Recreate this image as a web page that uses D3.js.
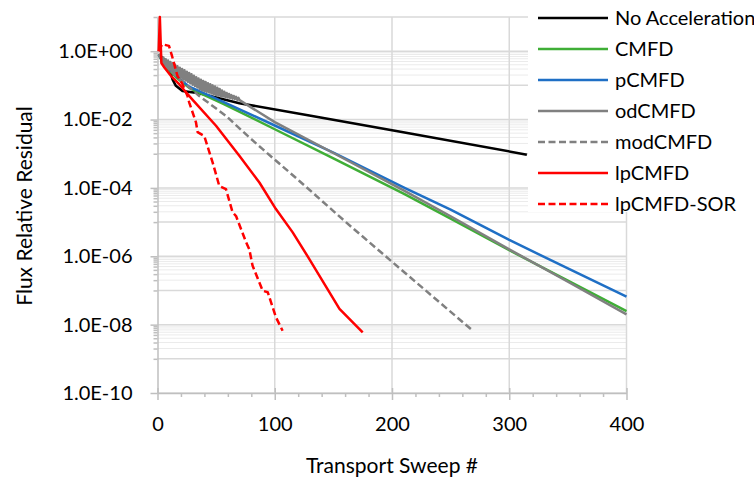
<!DOCTYPE html>
<html>
<head>
<meta charset="utf-8">
<script src="https://cdn.jsdelivr.net/npm/d3@7"></script>
<style>
	body { margin: 0; background: #fff; }
	svg { display: block; font-family: Lato, "Open Sans", sans-serif; }
</style>
</head>
<body>
<script>
	// данные серий (число итераций, невязка)
	const noAccX = [1, 8.6, 12.8, 15.7, 21.3, 35.6, 69.8, 129.5, 206, 315];
	const noAccY = [0.8, 0.47, 0.15, 0.097, 0.068, 0.059, 0.030, 0.0132, 0.0045, 0.00094];

	const cmfdX = [1, 5, 16, 27, 40, 57, 100, 150, 210.7, 250, 300, 350, 400];
	const cmfdY = [0.8, 0.42, 0.17, 0.085, 0.052, 0.028, 5.2e-3, 7.3e-4, 6.6e-5, 1.26e-5, 1.5e-6, 1.95e-7, 2.5e-8];

	const pcmfdX = [1, 5, 16, 27, 40, 57, 100, 150, 210.7, 250, 300, 350, 400];
	const pcmfdY = [0.8, 0.45, 0.19, 0.092, 0.058, 0.032, 6.7e-3, 1.07e-3, 1.0e-4, 2.3e-5, 3.0e-6, 4.4e-7, 6.6e-8];

	// odCMFD в начале колеблется от итерации к итерации
	const odcmfdX = [1, 3, 4, 5, 6, 7, 8, 9, 10, 11, 12, 13, 14, 15, 16, 17, 18, 19, 20, 21, 22, 23, 24, 25, 26,
		27, 28, 29, 30, 31, 32, 33, 34, 35, 36, 37, 38, 39, 40, 41, 42, 43, 44, 45, 46, 47, 48, 49, 50, 51, 52,
		53, 54, 55, 56, 57, 58, 59, 60, 61, 62, 63, 64, 65, 66, 67, 68, 69, 70, 100, 150, 210.7, 250, 300, 350, 400];
	const odcmfdY = [0.8, 0.72, 0.47, 0.65, 0.37, 0.58, 0.32, 0.53, 0.295, 0.48, 0.26, 0.44, 0.24, 0.40, 0.21,
		0.36, 0.19, 0.33, 0.166, 0.30, 0.151, 0.275, 0.138, 0.25, 0.126, 0.23, 0.115, 0.21, 0.105, 0.19, 0.095,
		0.174, 0.087, 0.158, 0.078, 0.146, 0.072, 0.135, 0.068, 0.126, 0.065, 0.116, 0.062, 0.107, 0.058, 0.100,
		0.055, 0.092, 0.052, 0.085, 0.050, 0.078, 0.048, 0.071, 0.047, 0.065, 0.045, 0.060, 0.044, 0.056, 0.043,
		0.052, 0.041, 0.049, 0.040, 0.046, 0.038, 0.043, 0.037, 8.4e-3, 1.05e-3, 8.2e-5, 1.48e-5, 1.6e-6,
		1.8e-7, 2.0e-8];

	const modcmfdX = [1, 5, 15, 25, 35.6, 58.4, 78.3, 89.7, 121, 160.9, 200.7, 269];
	const modcmfdY = [0.8, 0.45, 0.2, 0.1, 0.049, 0.0128, 3.0e-3, 1.36e-3, 1.6e-4, 9.8e-6, 6.6e-7, 6.6e-9];

	const lpcmfdX = [1, 2, 3.3, 5.7, 11.4, 18.5, 24.3, 29.6, 49.9, 69.8, 86.9, 101, 115.3, 129.5, 155.2, 175];
	const lpcmfdY = [1.0, 10, 0.45, 0.34, 0.19, 0.108, 0.063, 0.039, 6.6e-3, 8.7e-4, 1.44e-4, 2.4e-5, 5.0e-6, 8.3e-7, 2.9e-8, 5.9e-9];

	const sorX = [1, 4, 9.8, 12.5, 17, 21.3, 25.6, 27, 32.8, 34.2, 39.9, 47, 52.7, 58.4, 64, 67, 75.5, 78.3, 81.1,
		89.7, 94, 101, 106.7];
	const sorY = [1.0, 1.6, 1.43, 0.70, 0.19, 0.108, 0.049, 0.032, 8.3e-3, 4.3e-3, 3.3e-3, 5.6e-4, 1.14e-4, 9.2e-5,
		1.95e-5, 1.5e-5, 2.6e-6, 1.6e-6, 5.3e-7, 9.8e-8, 8.9e-8, 1.65e-8, 6.6e-9];

	// подписи осей
	const xTicks = [0, 100, 200, 300, 400];
	const yTicks = [1, 1e-2, 1e-4, 1e-6, 1e-8, 1e-10];
	const yTickLabels = ["1.0E+00", "1.0E-02", "1.0E-04", "1.0E-06", "1.0E-08", "1.0E-10"];

	// серии в порядке легенды
	const series = [
		{ name: "No Acceleration", xs: noAccX, ys: noAccY, color: "#000000", dash: null },
		{ name: "CMFD", xs: cmfdX, ys: cmfdY, color: "#3fae36", dash: null },
		{ name: "pCMFD", xs: pcmfdX, ys: pcmfdY, color: "#1f6fc5", dash: null },
		{ name: "odCMFD", xs: odcmfdX, ys: odcmfdY, color: "#808080", dash: null },
		{ name: "modCMFD", xs: modcmfdX, ys: modcmfdY, color: "#808080", dash: "7,3.5" },
		{ name: "lpCMFD", xs: lpcmfdX, ys: lpcmfdY, color: "#ff0000", dash: null },
		{ name: "lpCMFD-SOR", xs: sorX, ys: sorY, color: "#ff0000", dash: "7,3.5" }
	];

	const w = 754,
		h = 482;

	const svg = d3
		.select("body")
		.append("svg")
		.attr("width", w)
		.attr("height", h);

	const xScale = d3.scaleLinear().domain([0, 400]).range([157.5, 626.5]),
		yScale = d3.scaleLog().domain([1e-10, 10]).range([393, 17]);

	// вспомогательные линии: основные по декадам, мелкие под чётными декадами
	const decades = d3.range(-10, 2).map(e => Math.pow(10, e));
	const minor = [];
	[0, -2, -4, -6, -8].forEach(e => {
		for (let k = 2; k <= 9; k++) minor.push(k * Math.pow(10, e - 1));
	});

	const grid = svg.append("g");

	grid.selectAll(".minor")
		.data(minor)
		.enter()
		.append("line")
		.attr("x1", xScale(0))
		.attr("x2", xScale(400))
		.attr("y1", d => yScale(d))
		.attr("y2", d => yScale(d))
		.attr("stroke", "#ebebeb")
		.attr("stroke-width", 1);

	grid.selectAll(".major")
		.data(decades)
		.enter()
		.append("line")
		.attr("x1", xScale(0))
		.attr("x2", xScale(400))
		.attr("y1", d => yScale(d))
		.attr("y2", d => yScale(d))
		.attr("stroke", "#d9d9d9")
		.attr("stroke-width", 1.5);

	grid.selectAll(".vert")
		.data(xTicks.slice(1))
		.enter()
		.append("line")
		.attr("x1", d => xScale(d))
		.attr("x2", d => xScale(d))
		.attr("y1", yScale(10))
		.attr("y2", yScale(1e-10))
		.attr("stroke", "#d9d9d9")
		.attr("stroke-width", 1.5);

	// ось X
	const xAxis = svg
		.append("g")
		.attr("transform", `translate(0,${yScale(1e-10)})`)
		.call(d3.axisBottom(xScale).tickValues(xTicks).tickSize(7).tickSizeOuter(0).tickFormat(d3.format("d")));

	xAxis.selectAll(".tick line").attr("y1", -5);

	svg.append("g")
		.attr("transform", `translate(0,${yScale(1e-10)})`)
		.call(d3.axisBottom(xScale).tickValues(d3.range(20, 400, 20).filter(v => v % 100)).tickSize(4).tickSizeOuter(0).tickFormat(""))
		.select(".domain").remove();

	// ось Y
	svg.append("g")
		.attr("transform", `translate(${xScale(0)},0)`)
		.call(d3.axisLeft(yScale).tickValues(yTicks).tickSize(7).tickSizeOuter(0).tickPadding(18)
			.tickFormat((d, i) => yTickLabels[i]));

	svg.append("g")
		.attr("transform", `translate(${xScale(0)},0)`)
		.call(d3.axisLeft(yScale).tickValues(minor.concat(decades.filter(d => yTicks.indexOf(d) < 0)))
			.tickSize(4).tickFormat(""))
		.select(".domain").remove();

	svg.selectAll(".domain, .tick line")
		.attr("stroke", "#bfbfbf")
		.attr("stroke-width", 1.5);

	svg.selectAll(".tick text")
		.attr("font-size", 20)
		.attr("font-family", "Lato, 'Open Sans', sans-serif")
		.attr("fill", "#000");

	xAxis.selectAll(".tick text").attr("dy", "1.4em");

	// подписи осей
	svg.append("text")
		.attr("x", 392)
		.attr("y", 473)
		.attr("text-anchor", "middle")
		.attr("font-size", 21)
		.text("Transport Sweep #");

	svg.append("text")
		.attr("transform", "translate(32,206) rotate(-90)")
		.attr("text-anchor", "middle")
		.attr("font-size", 21)
		.text("Flux Relative Residual");

	// линии серий
	const line = d3
		.line()
		.x(d => xScale(d[0]))
		.y(d => yScale(d[1]));

	svg.selectAll(".series")
		.data(series)
		.enter()
		.append("path")
		.attr("d", s => line(s.xs.map((x, i) => [x, s.ys[i]])))
		.attr("fill", "none")
		.attr("stroke", s => s.color)
		.attr("stroke-width", 2.5)
		.attr("stroke-linejoin", "round")
		.attr("stroke-dasharray", s => s.dash);

	// легенда
	const legend = svg.append("g");

	legend.append("rect")
		.attr("x", 528)
		.attr("y", 0)
		.attr("width", w - 528)
		.attr("height", 212)
		.attr("fill", "#fff");

	const items = legend
		.selectAll(".item")
		.data(series)
		.enter()
		.append("g")
		.attr("transform", (d, i) => `translate(0,${18 + i * 31})`);

	items.append("line")
		.attr("x1", 538)
		.attr("x2", 608)
		.attr("stroke", d => d.color)
		.attr("stroke-width", 2.5)
		.attr("stroke-dasharray", d => d.dash);

	items.append("text")
		.attr("x", 615)
		.attr("dy", "0.35em")
		.attr("font-size", 20)
		.text(d => d.name);
</script>
</body>
</html>
